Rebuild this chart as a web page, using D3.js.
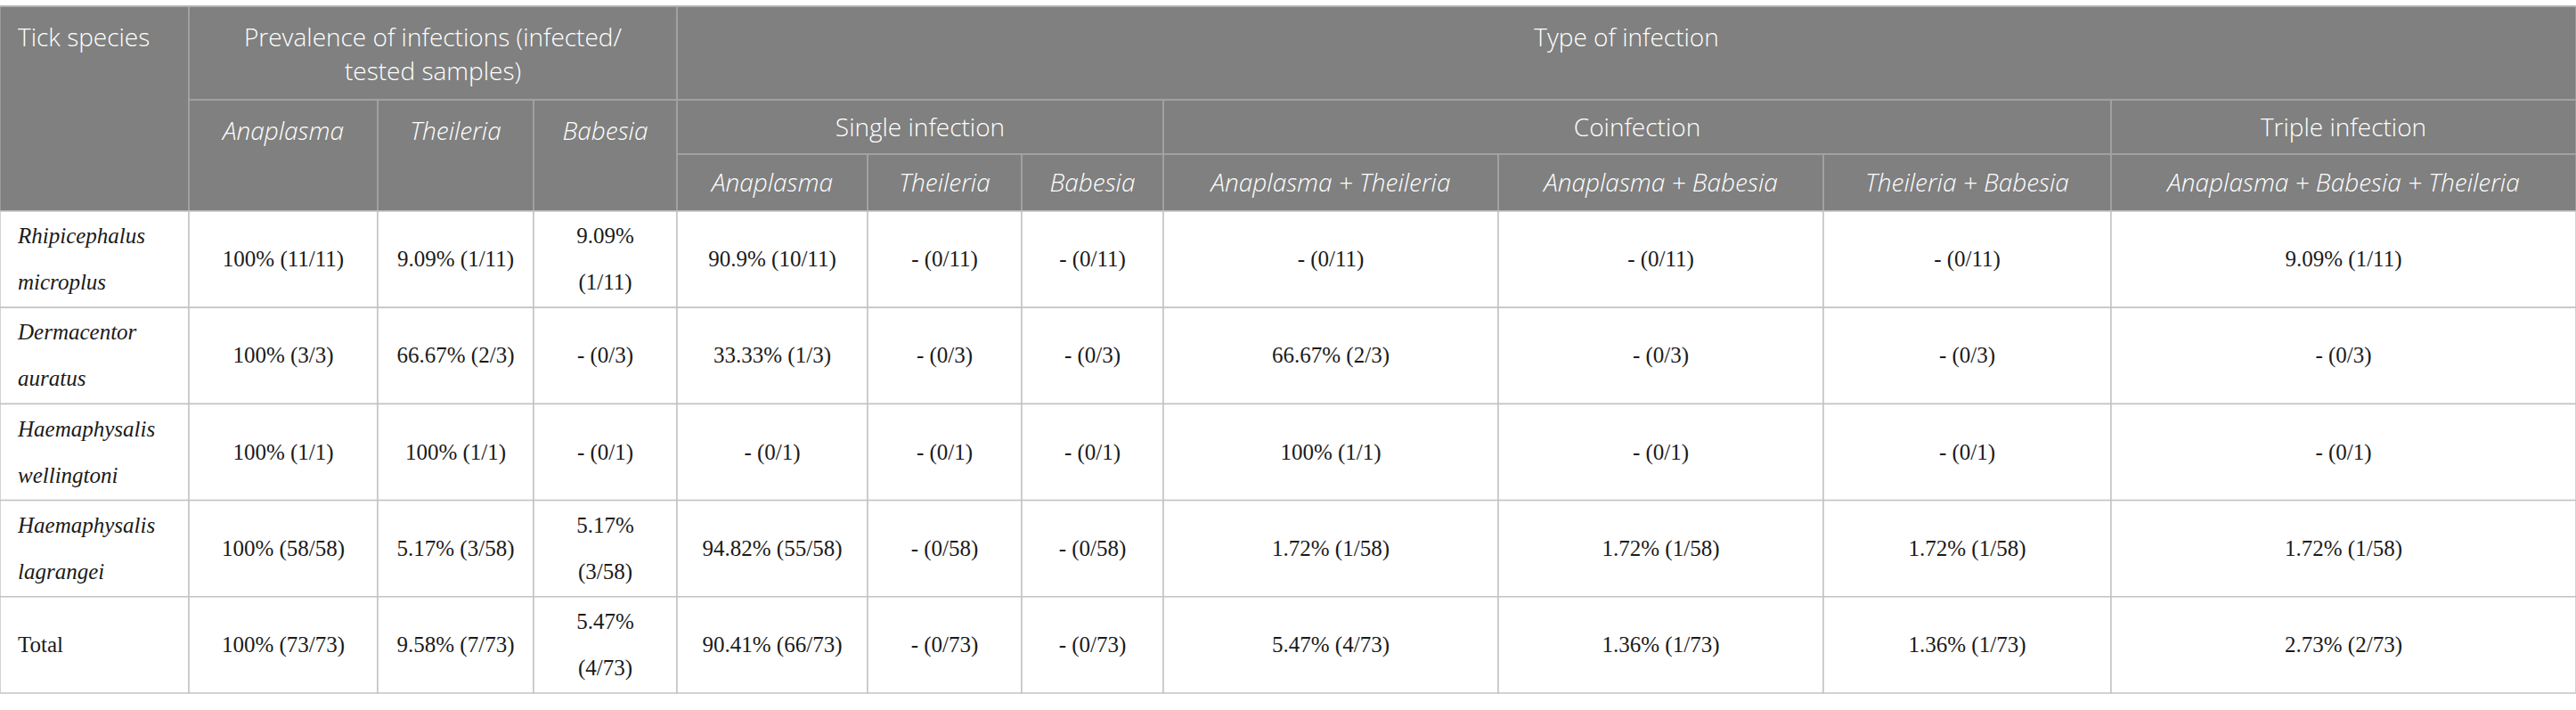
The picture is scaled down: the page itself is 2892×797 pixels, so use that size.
<!DOCTYPE html>
<html>
<head>
<meta charset="utf-8">
<script src="https://cdn.jsdelivr.net/npm/d3@7"></script>
<style>
  html, body { margin: 0; padding: 0; background: #fff; }
  svg { display: block; }
</style>
</head>
<body>
<div id="chart"></div>
<script>
// ---- data ----
const species = ["Rhipicephalus microplus", "Dermacentor auratus", "Haemaphysalis wellingtoni", "Haemaphysalis lagrangei", "Total"];
const prevAnaplasma = ["100% (11/11)", "100% (3/3)", "100% (1/1)", "100% (58/58)", "100% (73/73)"];
const prevTheileria = ["9.09% (1/11)", "66.67% (2/3)", "100% (1/1)", "5.17% (3/58)", "9.58% (7/73)"];
const prevBabesia = ["9.09% (1/11)", "- (0/3)", "- (0/1)", "5.17% (3/58)", "5.47% (4/73)"];
const singleAnaplasma = ["90.9% (10/11)", "33.33% (1/3)", "- (0/1)", "94.82% (55/58)", "90.41% (66/73)"];
const singleTheileria = ["- (0/11)", "- (0/3)", "- (0/1)", "- (0/58)", "- (0/73)"];
const singleBabesia = ["- (0/11)", "- (0/3)", "- (0/1)", "- (0/58)", "- (0/73)"];
const coAnaTheileria = ["- (0/11)", "66.67% (2/3)", "100% (1/1)", "1.72% (1/58)", "5.47% (4/73)"];
const coAnaBabesia = ["- (0/11)", "- (0/3)", "- (0/1)", "1.72% (1/58)", "1.36% (1/73)"];
const coTheileriaBabesia = ["- (0/11)", "- (0/3)", "- (0/1)", "1.72% (1/58)", "1.36% (1/73)"];
const tripleInfection = ["9.09% (1/11)", "- (0/3)", "- (0/1)", "1.72% (1/58)", "2.73% (2/73)"];

const columns = [species, prevAnaplasma, prevTheileria, prevBabesia, singleAnaplasma, singleTheileria,
  singleBabesia, coAnaTheileria, coAnaBabesia, coTheileriaBabesia, tripleInfection];

// header labels: c = [first col, end col), r = [first row, end row)
const headerCells = [
  { t: "Tick species", c: [0, 1], r: [0, 3] },
  { t: "Prevalence of infections (infected/ tested samples)", c: [1, 4], r: [0, 1] },
  { t: "Type of infection", c: [4, 11], r: [0, 1] },
  { t: "Anaplasma", c: [1, 2], r: [1, 3], it: true },
  { t: "Theileria", c: [2, 3], r: [1, 3], it: true },
  { t: "Babesia", c: [3, 4], r: [1, 3], it: true },
  { t: "Single infection", c: [4, 7], r: [1, 2] },
  { t: "Coinfection", c: [7, 10], r: [1, 2] },
  { t: "Triple infection", c: [10, 11], r: [1, 2] },
  { t: "Anaplasma", c: [4, 5], r: [2, 3], it: true },
  { t: "Theileria", c: [5, 6], r: [2, 3], it: true },
  { t: "Babesia", c: [6, 7], r: [2, 3], it: true },
  { t: "Anaplasma + Theileria", c: [7, 8], r: [2, 3], it: true },
  { t: "Anaplasma + Babesia", c: [8, 9], r: [2, 3], it: true },
  { t: "Theileria + Babesia", c: [9, 10], r: [2, 3], it: true },
  { t: "Anaplasma + Babesia + Theileria", c: [10, 11], r: [2, 3], it: true }
];

// ---- layout ----
const W = 2892, H = 797;
const colWidths = [212, 212, 175, 161, 214, 173, 159, 376, 365, 323, 522];
const colEdges = [0, ...d3.cumsum(colWidths)];
const x = d3.scaleOrdinal().domain(d3.range(colEdges.length)).range(colEdges);
const hy = d3.scaleOrdinal().domain([0, 1, 2, 3]).range([7, 112, 173, 237]);
const y = d3.scaleBand().domain(d3.range(species.length)).range([237, 778]);

const headFont = "'Open Sans', sans-serif";
const bodyFont = "'Liberation Serif', 'Times New Roman', serif";
const pad = 20;

const svg = d3.select("#chart").append("svg")
  .attr("width", W)
  .attr("height", H);

// wrap a text element into tspans that fit width
const wrapLines = (textSel, str, width) => {
  const words = str.split(" ");
  const lines = [];
  let line = [];
  const probe = textSel.append("tspan");
  words.forEach(w => {
    const test = line.concat(w).join(" ");
    probe.text(test);
    if (probe.node().getComputedTextLength() > width && line.length) {
      lines.push(line.join(" "));
      line = [w];
    } else {
      line.push(w);
    }
  });
  lines.push(line.join(" "));
  probe.remove();
  return lines;
};

// ---- header ----
const head = svg.append("g").attr("class", "header");

head.append("rect")
  .attr("x", 0).attr("y", hy(0))
  .attr("width", W).attr("height", hy(3) - hy(0))
  .attr("fill", "#7f807f");

headerCells.forEach(d => {
  const x0 = x(d.c[0]), x1 = x(d.c[1]);
  const y0 = hy(d.r[0]), y1 = hy(d.r[1]);
  head.append("rect")
    .attr("x", x0).attr("y", y0)
    .attr("width", x1 - x0).attr("height", y1 - y0)
    .attr("fill", "none")
    .attr("stroke", "#a3a4a3")
    .attr("stroke-width", 1.5);

  const left = d.c[0] === 0;
  const txt = head.append("text")
    .attr("fill", "#fff")
    .attr("font-family", headFont)
    .attr("font-weight", 300)
    .attr("font-size", 28)
    .attr("font-style", d.it ? "italic" : "normal")
    .attr("text-anchor", left ? "start" : "middle");
  const tx = left ? x0 + pad : (x0 + x1) / 2;
  const lines = wrapLines(txt, d.t, x1 - x0 - 2 * pad);
  const lh = 38;
  let first;
  if (d.r[0] === 0 || d.r[1] - d.r[0] > 1) {
    first = y0 + 45;   // top aligned
  } else {
    first = (y0 + y1) / 2 - (lines.length - 1) * lh / 2 + 10;
  }
  lines.forEach((l, i) => {
    txt.append("tspan").attr("x", tx).attr("y", first + i * lh).text(l);
  });
});

// ---- body ----
const body = svg.append("g").attr("class", "body");

columns.forEach((col, ci) => {
  const x0 = x(ci), x1 = x(ci + 1);
  col.forEach((val, ri) => {
    const y0 = y(ri), bh = y.bandwidth();
    body.append("rect")
      .attr("x", x0).attr("y", y0)
      .attr("width", x1 - x0).attr("height", bh)
      .attr("fill", "#fff")
      .attr("stroke", "#c3c3c3")
      .attr("stroke-width", 1.5);

    const left = ci === 0;
    const txt = body.append("text")
      .attr("fill", "#1a1a1a")
      .attr("font-family", bodyFont)
      .attr("font-size", 25)
      .attr("font-style", left && val !== "Total" ? "italic" : "normal")
      .attr("text-anchor", left ? "start" : "middle");
    const tx = left ? x0 + pad : (x0 + x1) / 2;
    const lines = wrapLines(txt, val, x1 - x0 - 2 * pad);
    const lh = 52;
    const first = y0 + bh / 2 - (lines.length - 1) * lh / 2 + 8;
    lines.forEach((l, i) => {
      txt.append("tspan").attr("x", tx).attr("y", first + i * lh).text(l);
    });
  });
});

// top outer line
svg.append("line")
  .attr("x1", 0).attr("x2", W)
  .attr("y1", hy(0)).attr("y2", hy(0))
  .attr("stroke", "#b4b4b4")
  .attr("stroke-width", 1.5);
</script>
</body>
</html>
